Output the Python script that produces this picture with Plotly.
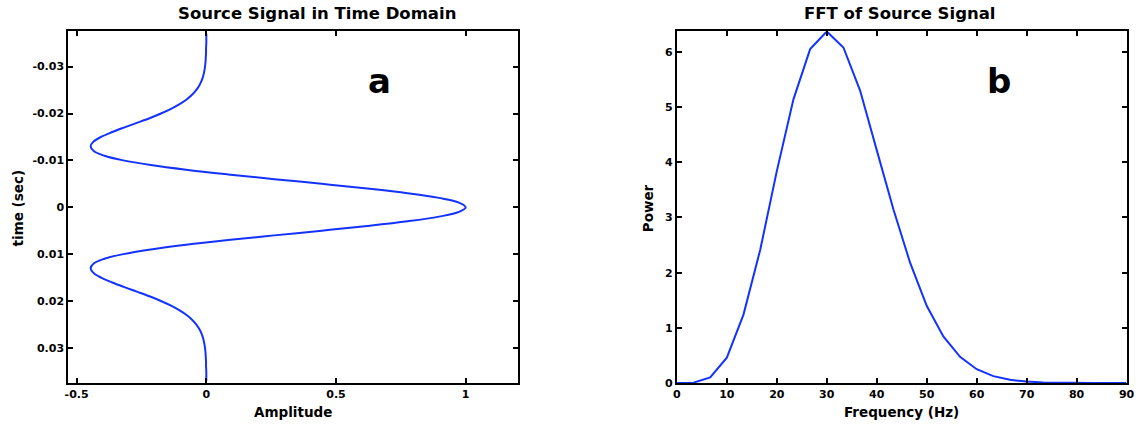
import plotly.graph_objects as go

# ---------------- data ----------------
time_sec = [-0.037, -0.036, -0.035, -0.034, -0.033, -0.032, -0.031, -0.030,
            -0.029, -0.028, -0.027, -0.026, -0.025, -0.024, -0.023, -0.022,
            -0.021, -0.020, -0.019, -0.018, -0.017, -0.016, -0.015, -0.014,
            -0.013, -0.012, -0.011, -0.010, -0.009, -0.008, -0.007, -0.006,
            -0.005, -0.004, -0.003, -0.002, -0.001, 0.000,
            0.001, 0.002, 0.003, 0.004, 0.005, 0.006, 0.007, 0.008,
            0.009, 0.010, 0.011, 0.012, 0.013, 0.014, 0.015, 0.016,
            0.017, 0.018, 0.019, 0.020, 0.021, 0.022, 0.023, 0.024,
            0.025, 0.026, 0.027, 0.028, 0.029, 0.030, 0.031, 0.032,
            0.033, 0.034, 0.035, 0.036, 0.037]
amplitude = [0.000, 0.000, 0.000, -0.001, -0.001, -0.002, -0.003, -0.005,
             -0.008, -0.012, -0.018, -0.027, -0.039, -0.055, -0.076, -0.103,
             -0.136, -0.175, -0.219, -0.268, -0.318, -0.365, -0.406, -0.435,
             -0.446, -0.434, -0.393, -0.320, -0.214, -0.078, 0.084, 0.262,
             0.445, 0.621, 0.776, 0.897, 0.974, 1.000,
             0.974, 0.897, 0.776, 0.621, 0.445, 0.262, 0.084, -0.078,
             -0.214, -0.320, -0.393, -0.434, -0.446, -0.435, -0.406, -0.365,
             -0.318, -0.268, -0.219, -0.175, -0.136, -0.103, -0.076, -0.055,
             -0.039, -0.027, -0.018, -0.012, -0.008, -0.005, -0.003, -0.002,
             -0.001, -0.001, 0.000, 0.000, 0.000]

freq_hz = [0.0, 3.33, 6.67, 10.0, 13.33, 16.67, 20.0, 23.33, 26.67, 30.0,
           33.33, 36.67, 40.0, 43.33, 46.67, 50.0, 53.33, 56.67, 60.0, 63.33,
           66.67, 70.0, 73.33, 76.67, 80.0, 83.33, 86.67, 90.0]
power = [0.0, 0.007, 0.10, 0.46, 1.24, 2.41, 3.84, 5.14, 6.05, 6.37,
         6.08, 5.30, 4.22, 3.15, 2.18, 1.40, 0.845, 0.475, 0.25, 0.125,
         0.058, 0.026, 0.011, 0.004, 0.0016, 0.0005, 0.0002, 0.0]

left_xticks = [-0.5, 0, 0.5, 1]
left_xticktext = ["-0.5", "0", "0.5", "1"]
left_yticks = [-0.03, -0.02, -0.01, 0, 0.01, 0.02, 0.03]
left_yticktext = ["-0.03", "-0.02", "-0.01", "0", "0.01", "0.02", "0.03"]
right_xticks = [0, 10, 20, 30, 40, 50, 60, 70, 80, 90]
right_yticks = [0, 1, 2, 3, 4, 5, 6]

# ---------------- layout helpers ----------------
W, H = 1144, 434
def px(x):
    return x / W
def py(y):
    return 1 - y / H

FONT = "DejaVu Sans"
LINE_COLOR = "rgb(20,50,255)"

fig = go.Figure()
fig.add_trace(go.Scatter(x=amplitude, y=time_sec, mode="lines",
                         line=dict(color=LINE_COLOR, width=2, shape="spline"),
                         xaxis="x", yaxis="y", showlegend=False))
fig.add_trace(go.Scatter(x=freq_hz, y=power, mode="lines",
                         line=dict(color=LINE_COLOR, width=2),
                         xaxis="x2", yaxis="y2", showlegend=False))

tickfont = dict(family=FONT, size=11, color="black", weight="bold")
common = dict(showline=True, linewidth=2, linecolor="black", mirror="ticks",
              ticks="inside", ticklen=5, tickwidth=1.5, tickcolor="black",
              showgrid=False, zeroline=False, tickfont=tickfont, tickmode="array")

fig.update_layout(
    width=W, height=H,
    margin=dict(l=0, r=0, t=0, b=0),
    paper_bgcolor="white", plot_bgcolor="white",
    xaxis=dict(domain=[px(65), px(519)], range=[-0.532, 1.2],
               tickvals=left_xticks, ticktext=left_xticktext, anchor="y", **common),
    yaxis=dict(domain=[py(389.3), py(32)], range=[0.0375, -0.0375],
               tickvals=left_yticks, ticktext=left_yticktext, anchor="x", **common),
    xaxis2=dict(domain=[px(680), px(1134.5)], range=[0, 90],
                tickvals=right_xticks, ticktext=[str(v) for v in right_xticks],
                anchor="y2", **common),
    yaxis2=dict(domain=[py(389.3), py(32)], range=[0, 6.37],
                tickvals=right_yticks, ticktext=[str(v) for v in right_yticks],
                anchor="x2", **common),
)

def ann(text, x, y, size, angle=0):
    fig.add_annotation(text=text, x=px(x), y=py(y), xref="paper", yref="paper",
                       showarrow=False, textangle=angle,
                       xanchor="center", yanchor="middle",
                       font=dict(family=FONT, size=size, color="black", weight="bold"))

ann("Source Signal in Time Domain", 316, 14, 16.5)
ann("FFT of Source Signal", 906, 14, 16.5)
ann("Amplitude", 292, 419, 13.5)
ann("Frequency (Hz)", 907, 419, 13.5)
ann("time (sec)", 14, 211, 13.5, -90)
ann("Power", 650.5, 212, 13.5, -90)
ann("a", 379, 82, 34)
ann("b", 1006, 82, 34)

fig.write_html("out.html")
